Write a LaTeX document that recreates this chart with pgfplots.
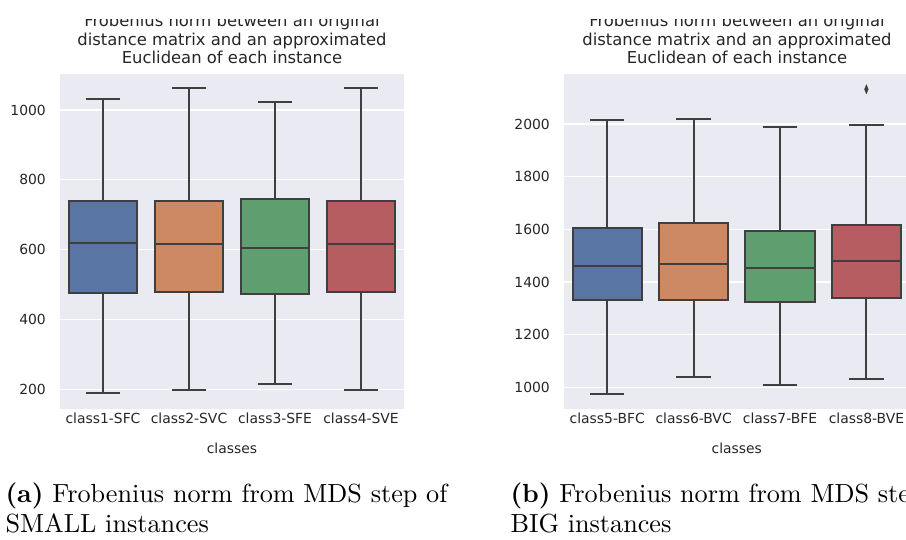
\documentclass[border=0pt]{standalone}
\usepackage{fontspec}
\usepackage{pgfplots}
\pgfplotsset{compat=1.18}
\usepgfplotslibrary{statistics}
\newfontfamily\dejavu{DejaVu Sans}
\definecolor{bg}{HTML}{EAEAF2}
\definecolor{lg}{HTML}{3F3F3F}
\definecolor{txt}{HTML}{262626}
\definecolor{cA}{HTML}{5975A4}
\definecolor{cB}{HTML}{CC8963}
\definecolor{cC}{HTML}{5F9E6E}
\definecolor{cD}{HTML}{B55D60}
\pgfplotsset{sb/.style={
  scale only axis, width=344pt, height=335pt,
  axis background/.style={fill=bg},
  axis line style={draw=none},
  major tick length=0pt,
  ymajorgrids, grid style={white, line width=1.2pt},
  xmin=-0.5, xmax=3.5, xtick={0,1,2,3},
  tick label style={font=\dejavu\fontsize{13.9}{16}\selectfont, text=txt, inner sep=0pt},
  /pgf/number format/assume math mode=true,
  /pgf/number format/1000 sep={},
  yticklabel style={anchor=east, xshift=-14pt},
  xticklabel style={anchor=north, yshift=-4pt},
  xlabel={classes},
  xlabel style={font=\dejavu\fontsize{13.9}{16}\selectfont, text=txt, inner sep=0pt,
    at={(axis description cs:0.5,0)}, anchor=north, yshift=-34pt},
  boxplot/draw direction=y,
  boxplot/every median/.style={draw=lg, line width=2pt},
  boxplot/every whisker/.style={draw=lg, line width=2pt},
  every axis plot/.append style={draw=lg, line width=2pt},
}}
\begin{document}
\begin{tikzpicture}
\useasboundingbox (0,0) rectangle (906pt,-540pt);
\clip (0,0) rectangle (906pt,-540pt);
% left panel
\begin{axis}[sb, at={(60pt,-409pt)}, anchor=south west,
  ymin=143.6, ymax=1103.1, ytick={200,400,600,800,1000},
  xticklabels={class1-SFC,class2-SVC,class3-SFE,class4-SVE}]
\addplot[boxplot prepared={draw position=0, lower whisker=188, lower quartile=476, median=619, upper quartile=740.6, upper whisker=1031, box extend=0.8, whisker extend=0.4}, boxplot/every box/.style={fill=cA}] coordinates {};
\addplot[boxplot prepared={draw position=1, lower whisker=198, lower quartile=477.5, median=616, upper quartile=740, upper whisker=1062, box extend=0.8, whisker extend=0.4}, boxplot/every box/.style={fill=cB}] coordinates {};
\addplot[boxplot prepared={draw position=2, lower whisker=215, lower quartile=473, median=606, upper quartile=744.6, upper whisker=1024, box extend=0.8, whisker extend=0.4}, boxplot/every box/.style={fill=cC}] coordinates {};
\addplot[boxplot prepared={draw position=3, lower whisker=198, lower quartile=477.5, median=616, upper quartile=740, upper whisker=1062, box extend=0.8, whisker extend=0.4}, boxplot/every box/.style={fill=cD}] coordinates {};
\end{axis}
% right panel
\begin{axis}[sb, at={(564pt,-409pt)}, anchor=south west, width=345.6pt,
  ymin=917.6, ymax=2189.9, ytick={1000,1200,1400,1600,1800,2000},
  xticklabels={class5-BFC,class6-BVC,class7-BFE,class8-BVE}]
\addplot[boxplot prepared={draw position=0, lower whisker=975, lower quartile=1332, median=1461, upper quartile=1605, upper whisker=2015, box extend=0.8, whisker extend=0.4}, boxplot/every box/.style={fill=cA}] coordinates {};
\addplot[boxplot prepared={draw position=1, lower whisker=1039, lower quartile=1332, median=1468, upper quartile=1623, upper whisker=2019, box extend=0.8, whisker extend=0.4}, boxplot/every box/.style={fill=cB}] coordinates {};
\addplot[boxplot prepared={draw position=2, lower whisker=1008, lower quartile=1323, median=1454, upper quartile=1594, upper whisker=1990, box extend=0.8, whisker extend=0.4}, boxplot/every box/.style={fill=cC}] coordinates {};
\addplot[boxplot prepared={draw position=3, lower whisker=1030, lower quartile=1341, median=1478, upper quartile=1616, upper whisker=1995, box extend=0.8, whisker extend=0.4}, boxplot/every box/.style={fill=cD}] coordinates {};
% outlier of class8-BVE
\addplot[only marks, mark=diamond*, mark size=4.5pt, mark options={fill=lg, draw=lg, line width=0.4pt, xscale=0.55}] coordinates {(3,2132)};
\end{axis}
% titles
\begin{scope}[every node/.style={font=\dejavu\fontsize{16.4}{19}\selectfont, text=txt, anchor=base, inner sep=0pt}]
\node at (232pt,-27pt) {Frobenius norm between an original};
\node at (232pt,-45.5pt) {distance matrix and an approximated};
\node at (232pt,-64pt) {Euclidean of each instance};
\node at (737pt,-27pt) {Frobenius norm between an original};
\node at (737pt,-45.5pt) {distance matrix and an approximated};
\node at (737pt,-64pt) {Euclidean of each instance};
\end{scope}
\fill[white] (0,0) rectangle (906pt,-19pt);
% captions
\begin{scope}[every node/.style={anchor=base west, inner sep=0pt, scale=2.62}]
\node at (5pt,-502pt) {\textbf{(a)} Frobenius norm from MDS step of};
\node at (5pt,-532pt) {SMALL instances};
\node at (510pt,-502pt) {\textbf{(b)} Frobenius norm from MDS step of};
\node at (510pt,-532pt) {BIG instances};
\end{scope}
\end{tikzpicture}
\end{document}
